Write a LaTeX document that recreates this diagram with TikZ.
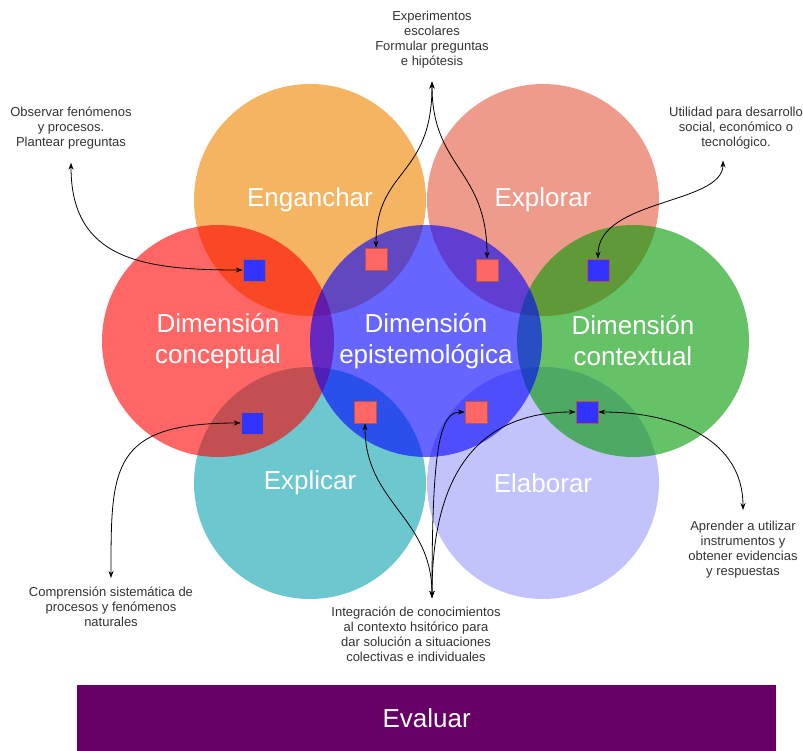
\documentclass[tikz,border=0pt]{standalone}
\usepackage{fontspec}
\setmainfont{Liberation Sans}
\usetikzlibrary{arrows.meta}

\definecolor{engcol}{HTML}{F4B462}
\definecolor{explcol}{HTML}{EE9B8C}
\definecolor{expccol}{HTML}{6DC7CE}
\definecolor{elabcol}{HTML}{C3C3FB}
\definecolor{dimred}{HTML}{FF0000}
\definecolor{dimgreen}{HTML}{009900}
\definecolor{dimblue}{HTML}{0000FF}
\definecolor{notegray}{HTML}{333333}
\definecolor{sqred}{HTML}{FF6666}
\definecolor{sqblue}{HTML}{3333FF}
\definecolor{sqline}{HTML}{B85450}
\definecolor{evalcol}{HTML}{660066}

\begin{document}
\begin{tikzpicture}[
        x=1pt, y=-1pt,
        phase/.style={circle, inner sep=0pt, minimum size=232pt, text=white, align=center, font=\fontsize{26}{31}\selectfont},
        dimension/.style={phase, fill opacity=0.6, text opacity=1},
        note/.style={align=center, inner sep=0pt, anchor=north, text=notegray, font=\fontsize{13}{15}\selectfont},
        marker/.style={rectangle, draw=sqline, line width=0.6pt, minimum size=22pt, inner sep=0pt},
        conn/.style={<->, >={Stealth[length=7pt, width=5pt]}, line width=0.8pt}
    ]
    \useasboundingbox (0,0) rectangle (803,750);

    % Phases
    \node[phase, fill=engcol] (circle_eng) at (310,200) {Enganchar};
    \node[phase, fill=explcol] (circle_expl) at (543,200) {Explorar};
    \node[phase, fill=expccol] (circle_expc) at (310,483) {Explicar};
    \node[phase, fill=elabcol] (circle_elab) at (543,483) {Elaborar};

    % Dimensions
    \node[dimension, fill=dimred] (circle_conc) at (218,341) {Dimensión\\conceptual};
    \node[dimension, fill=dimgreen] (circle_ctx) at (633,341) {Dimensión\\contextual};
    \node[dimension, fill=dimblue] (circle_epis) at (426,341) {Dimensión\\epistemológica};

    % Markers
    \node[marker, fill=sqblue] (sq_conc_eng) at (254,270) {};
    \node[marker, fill=sqred] (sq_epis_eng) at (376,259) {};
    \node[marker, fill=sqred] (sq_epis_expl) at (487,270) {};
    \node[marker, fill=sqblue] (sq_ctx_expl) at (598,270) {};
    \node[marker, fill=sqblue] (sq_conc_expc) at (252,423) {};
    \node[marker, fill=sqred] (sq_epis_expc) at (365,412) {};
    \node[marker, fill=sqred] (sq_epis_elab) at (476,412) {};
    \node[marker, fill=sqblue] (sq_ctx_elab) at (587,412) {};

    % Notes
    \node[note] (note_obs) at (71,107) {Observar fenómenos\\y procesos.\\Plantear preguntas};
    \node[note] (note_exp) at (432,11) {Experimentos\\escolares\\Formular preguntas\\e hipótesis};
    \node[note] (note_util) at (736,107) {Utilidad para desarrollo\\social, económico o\\tecnológico.};
    \node[note] (note_comp) at (111,587) {Comprensión sistemática de\\procesos y fenómenos\\naturales};
    \node[note] (note_integ) at (416,607) {Integración de conocimientos\\al contexto hsitórico para\\dar solución a situaciones\\colectivas e individuales};
    \node[note] (note_apr) at (743,521) {Aprender a utilizar\\instrumentos y\\obtener evidencias\\y respuestas};

    % Connectors
    \draw[conn, shorten >=13pt] (sq_conc_eng.west) .. controls +(-100,0) and +(0,110) .. (note_obs.south);
    \draw[conn, shorten >=13pt] (sq_epis_eng.north) .. controls +(0,-80) and +(0,110) .. (note_exp.south);
    \draw[conn, shorten >=13pt] (sq_epis_expl.north) .. controls +(0,-90) and +(0,100) .. (note_exp.south);
    \draw[conn, shorten >=11pt] (sq_ctx_expl.north) .. controls +(0,-60) and +(0,55) .. ([xshift=-13pt]note_util.south);
    \draw[conn, shorten >=9pt] (sq_conc_expc.west) .. controls +(-130,0) and +(0,-120) .. (note_comp.north);
    \draw[conn, shorten >=9pt] (sq_epis_expc.south) .. controls +(0,80) and +(0,-90) .. ([xshift=16pt]note_integ.north);
    \draw[conn, shorten >=9pt] (sq_epis_elab.west) .. controls +(-25,0) and +(0,-160) .. ([xshift=16pt]note_integ.north);
    \draw[conn, shorten >=9pt] (sq_ctx_elab.west) .. controls +(-100,0) and +(0,-130) .. ([xshift=16pt]note_integ.north);
    \draw[conn, shorten >=11pt] (sq_ctx_elab.east) .. controls +(80,0) and +(0,-80) .. (note_apr.north);

    % Evaluation bar
    \node[fill=evalcol, anchor=north west, minimum width=699pt, minimum height=66pt, inner sep=0pt] (bar_eval) at (77,685) {};
    \node[text=white, font=\fontsize{26}{31}\selectfont] (text_eval) at (bar_eval.center) {Evaluar};

\end{tikzpicture}
\end{document}
